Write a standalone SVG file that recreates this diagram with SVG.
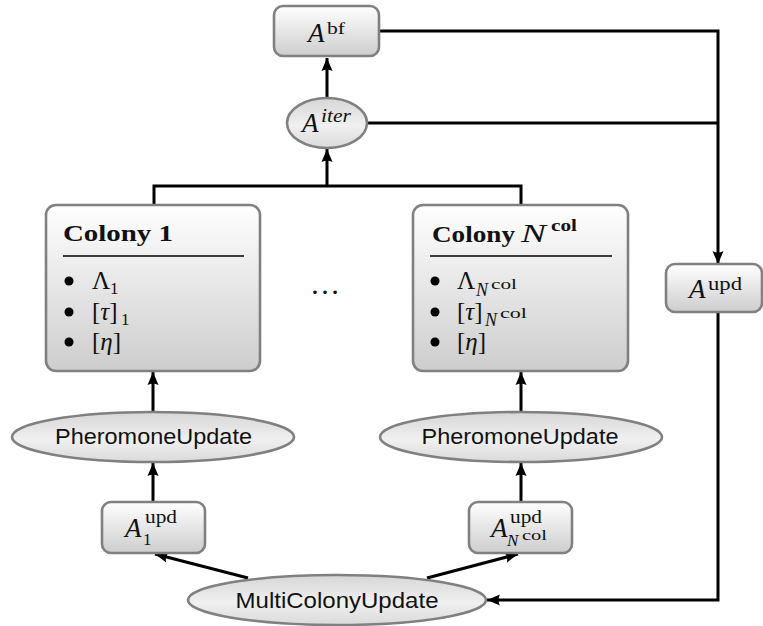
<svg xmlns="http://www.w3.org/2000/svg" width="763" height="626" viewBox="0 0 763 626">
<defs>
<linearGradient id="gBox" x1="0" y1="0" x2="0" y2="1">
<stop offset="0" stop-color="#ffffff"/>
<stop offset="1" stop-color="#cdcdcd"/>
</linearGradient>
<linearGradient id="gEll" x1="0" y1="0" x2="0" y2="1">
<stop offset="0" stop-color="#d6d6d6"/>
<stop offset="0.55" stop-color="#f0f0f0"/>
<stop offset="1" stop-color="#dadada"/>
</linearGradient>
<marker id="arr" markerUnits="userSpaceOnUse" markerWidth="14" markerHeight="12" refX="13" refY="6" orient="auto">
<path d="M0,0.5 L13,6 L0,11.5 Q3,6 0,0.5 Z" fill="#000"/>
</marker>
</defs>
<style>
.box{fill:url(#gBox);stroke:#808080;stroke-width:2.6}
.ell{fill:url(#gEll);stroke:#808080;stroke-width:2.6}
.edge{fill:none;stroke:#000;stroke-width:3}
.arr{marker-end:url(#arr)}
.sans{font-family:"Liberation Sans","DejaVu Sans",sans-serif;font-size:22px;fill:#111}
.rm{font-family:"Liberation Serif","DejaVu Serif",serif;fill:#111}
.it{font-family:"Liberation Serif","DejaVu Serif",serif;font-style:italic;fill:#111}
.bf{font-family:"Liberation Serif","DejaVu Serif",serif;font-weight:bold;fill:#111}
.rule{stroke:#000;stroke-width:1.6}
</style>

<g id="connectors">
<line class="edge arr" x1="327" y1="98" x2="327" y2="58"/>
<path class="edge" d="M154,205 V186 H521 V205"/>
<line class="edge arr" x1="327" y1="186" x2="327" y2="149"/>
<path class="edge arr" d="M379,31 H718 V264"/>
<line class="edge" x1="367" y1="123" x2="718" y2="123"/>
<path class="edge arr" d="M718,312 V600 H487"/>
<line class="edge arr" x1="153" y1="412" x2="153" y2="372"/>
<line class="edge arr" x1="521" y1="412" x2="521" y2="372"/>
<line class="edge arr" x1="153" y1="502" x2="153" y2="463"/>
<line class="edge arr" x1="521" y1="502" x2="521" y2="463"/>
<line class="edge arr" x1="248" y1="578" x2="155" y2="554"/>
<line class="edge arr" x1="427" y1="578" x2="518" y2="554"/>
</g>

<g id="Abf">
<rect class="box" x="274" y="6" width="105" height="50" rx="9"/>
<text class="it" x="308" y="42" font-size="27">A</text>
<text class="rm" x="327" y="34" font-size="17" textLength="18" lengthAdjust="spacingAndGlyphs">bf</text>
</g>

<g id="Aiter">
<ellipse class="ell" cx="327" cy="123" rx="40" ry="25"/>
<text class="it" x="302" y="132" font-size="27">A</text>
<text class="it" x="321" y="122" font-size="18" textLength="30" lengthAdjust="spacingAndGlyphs">iter</text>
</g>

<g id="colony1">
<rect class="box" x="46" y="205" width="214" height="166" rx="10"/>
<text class="bf" x="63" y="241" font-size="24" textLength="110" lengthAdjust="spacingAndGlyphs">Colony 1</text>
<line class="rule" x1="63" y1="256" x2="244" y2="256"/>
<circle cx="69" cy="281" r="4.5" fill="#000"/>
<circle cx="69" cy="312" r="4.5" fill="#000"/>
<circle cx="69" cy="342" r="4.5" fill="#000"/>
<text class="rm" x="92" y="289" font-size="25">Λ</text>
<text class="rm" x="110" y="294" font-size="17">1</text>
<text class="rm" x="92" y="320" font-size="25">[<tspan class="it">τ</tspan>]</text>
<text class="rm" x="121" y="325" font-size="17">1</text>
<text class="rm" x="92" y="350" font-size="25">[<tspan class="it">η</tspan>]</text>
</g>

<text id="dots" class="rm" x="325" y="294" font-size="30" text-anchor="middle">…</text>

<g id="colonyN">
<rect class="box" x="413" y="205" width="215" height="166" rx="10"/>
<text class="bf" x="432" y="242" font-size="24" textLength="83" lengthAdjust="spacingAndGlyphs">Colony</text>
<text class="it" x="521" y="242" font-size="26" textLength="25" lengthAdjust="spacingAndGlyphs">N</text>
<text class="bf" x="551" y="231" font-size="17" textLength="26" lengthAdjust="spacingAndGlyphs">col</text>
<line class="rule" x1="430" y1="256" x2="612" y2="256"/>
<circle cx="435" cy="281" r="4.5" fill="#000"/>
<circle cx="435" cy="312" r="4.5" fill="#000"/>
<circle cx="435" cy="342" r="4.5" fill="#000"/>
<text class="rm" x="457" y="289" font-size="25">Λ</text>
<text class="it" x="476" y="296" font-size="18">N</text>
<text class="rm" x="491" y="289" font-size="15" textLength="26" lengthAdjust="spacingAndGlyphs">col</text>
<text class="rm" x="457" y="320" font-size="25">[<tspan class="it">τ</tspan>]</text>
<text class="it" x="485" y="326" font-size="18">N</text>
<text class="rm" x="500" y="318" font-size="15" textLength="27" lengthAdjust="spacingAndGlyphs">col</text>
<text class="rm" x="457" y="350" font-size="25">[<tspan class="it">η</tspan>]</text>
</g>

<g id="Aupd">
<rect class="box" x="666" y="264" width="96" height="48" rx="9"/>
<text class="it" x="689" y="298" font-size="27">A</text>
<text class="rm" x="708" y="290" font-size="18" textLength="34" lengthAdjust="spacingAndGlyphs">upd</text>
</g>

<g id="pheromone1">
<ellipse class="ell" cx="153" cy="437" rx="141" ry="25"/>
<text class="sans" x="153.5" y="444" text-anchor="middle" textLength="197" lengthAdjust="spacingAndGlyphs">PheromoneUpdate</text>
</g>

<g id="pheromoneN">
<ellipse class="ell" cx="521" cy="437" rx="141" ry="25"/>
<text class="sans" x="520" y="444" text-anchor="middle" textLength="197" lengthAdjust="spacingAndGlyphs">PheromoneUpdate</text>
</g>

<g id="A1upd">
<rect class="box" x="102" y="502" width="103" height="51" rx="9"/>
<text class="it" x="125" y="537" font-size="27">A</text>
<text class="rm" x="145" y="523" font-size="18" textLength="32" lengthAdjust="spacingAndGlyphs">upd</text>
<text class="rm" x="143" y="545" font-size="17">1</text>
</g>

<g id="ANupd">
<rect class="box" x="469" y="502" width="103" height="51" rx="9"/>
<text class="it" x="491" y="537" font-size="27">A</text>
<text class="rm" x="510" y="523" font-size="18" textLength="32" lengthAdjust="spacingAndGlyphs">upd</text>
<text class="it" x="507" y="546" font-size="17">N</text>
<text class="rm" x="522" y="540" font-size="14" textLength="25" lengthAdjust="spacingAndGlyphs">col</text>
</g>

<g id="multicolony">
<ellipse class="ell" cx="337" cy="600" rx="149" ry="25"/>
<text class="sans" x="337" y="608" text-anchor="middle" font-size="23" textLength="203" lengthAdjust="spacingAndGlyphs">MultiColonyUpdate</text>
</g>
</svg>
